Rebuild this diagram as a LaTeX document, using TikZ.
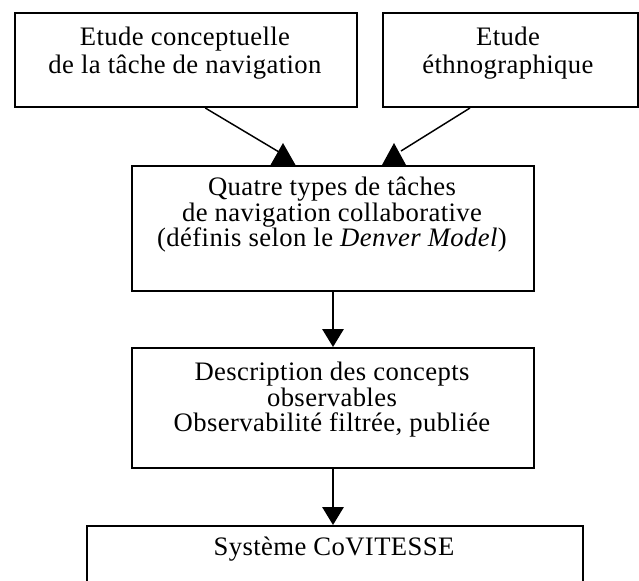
\documentclass[tikz,border=0pt]{standalone}
\usepackage{fontspec}
\setmainfont{Liberation Serif}[LetterSpace=1.5]
\usetikzlibrary{arrows.meta,calc}
\begin{document}
\begin{tikzpicture}[x=0.75pt,y=-0.75pt,
  box/.style={draw,line width=1.5pt,rectangle,inner sep=0pt,anchor=north west},
  txt/.style={align=center,inner sep=0pt,anchor=north,font=\fontsize{20pt}{19pt}\selectfont},
  toptxt/.style={txt,font=\fontsize{20pt}{21pt}\selectfont},
  link/.style={line width=1.1pt},
  flow/.style={line width=1.5pt,-{Triangle[length=13.5pt,width=16pt]}},
  head/.style={fill=black}]
\useasboundingbox (0,0) rectangle (639,581);
\clip (0,0) rectangle (639,581);
% boxes
\node[box,minimum width=256.5pt,minimum height=70.5pt] (A) at (14,12) {};
\node[box,minimum width=191.25pt,minimum height=70.5pt] (B) at (382,12) {};
\node[box,minimum width=301.5pt,minimum height=93.75pt] (C) at (131,165) {};
\node[box,minimum width=301.5pt,minimum height=90pt] (D) at (131,347) {};
\node[box,minimum width=372pt,minimum height=75pt] (E) at (86,525) {};
% texts
\node[toptxt] (tA) at (185,27) {Etude conceptuelle\\de la tâche de navigation};
\node[toptxt] (tB) at (508,27) {Etude\\éthnographique};
\node[txt] (tC) at (332,177) {Quatre types de tâches\\de navigation collaborative\\(définis selon le \textit{Denver Model})};
\node[txt] (tD) at (332,362) {Description des concepts\\observables\\Observabilité filtrée, publiée};
\node[txt,anchor=base] (tE) at (334,555) {Système CoVITESSE};
% top connectors
\coordinate (ta) at ($(C.north west)+(152,-22)$);
\coordinate (tb) at ($(C.north west)+(263,-22)$);
\coordinate (la) at (279,152);
\coordinate (ra) at (401,151);
\draw[link] ($(A.south west)!0.556!(A.south east)$) -- (la);
\draw[link] ($(B.south west)+(88,0)$) -- (ra);
\fill[head] (ta) -- ++(-12.5,22) -- ++(25,0) -- cycle;
\fill[head] (tb) -- ++(-12,22) -- ++(24,0) -- cycle;
% vertical arrows
\draw[flow] (C.south) -- (D.north);
\draw[flow] (D.south) -- (D.south |- E.north);
\end{tikzpicture}
\end{document}
